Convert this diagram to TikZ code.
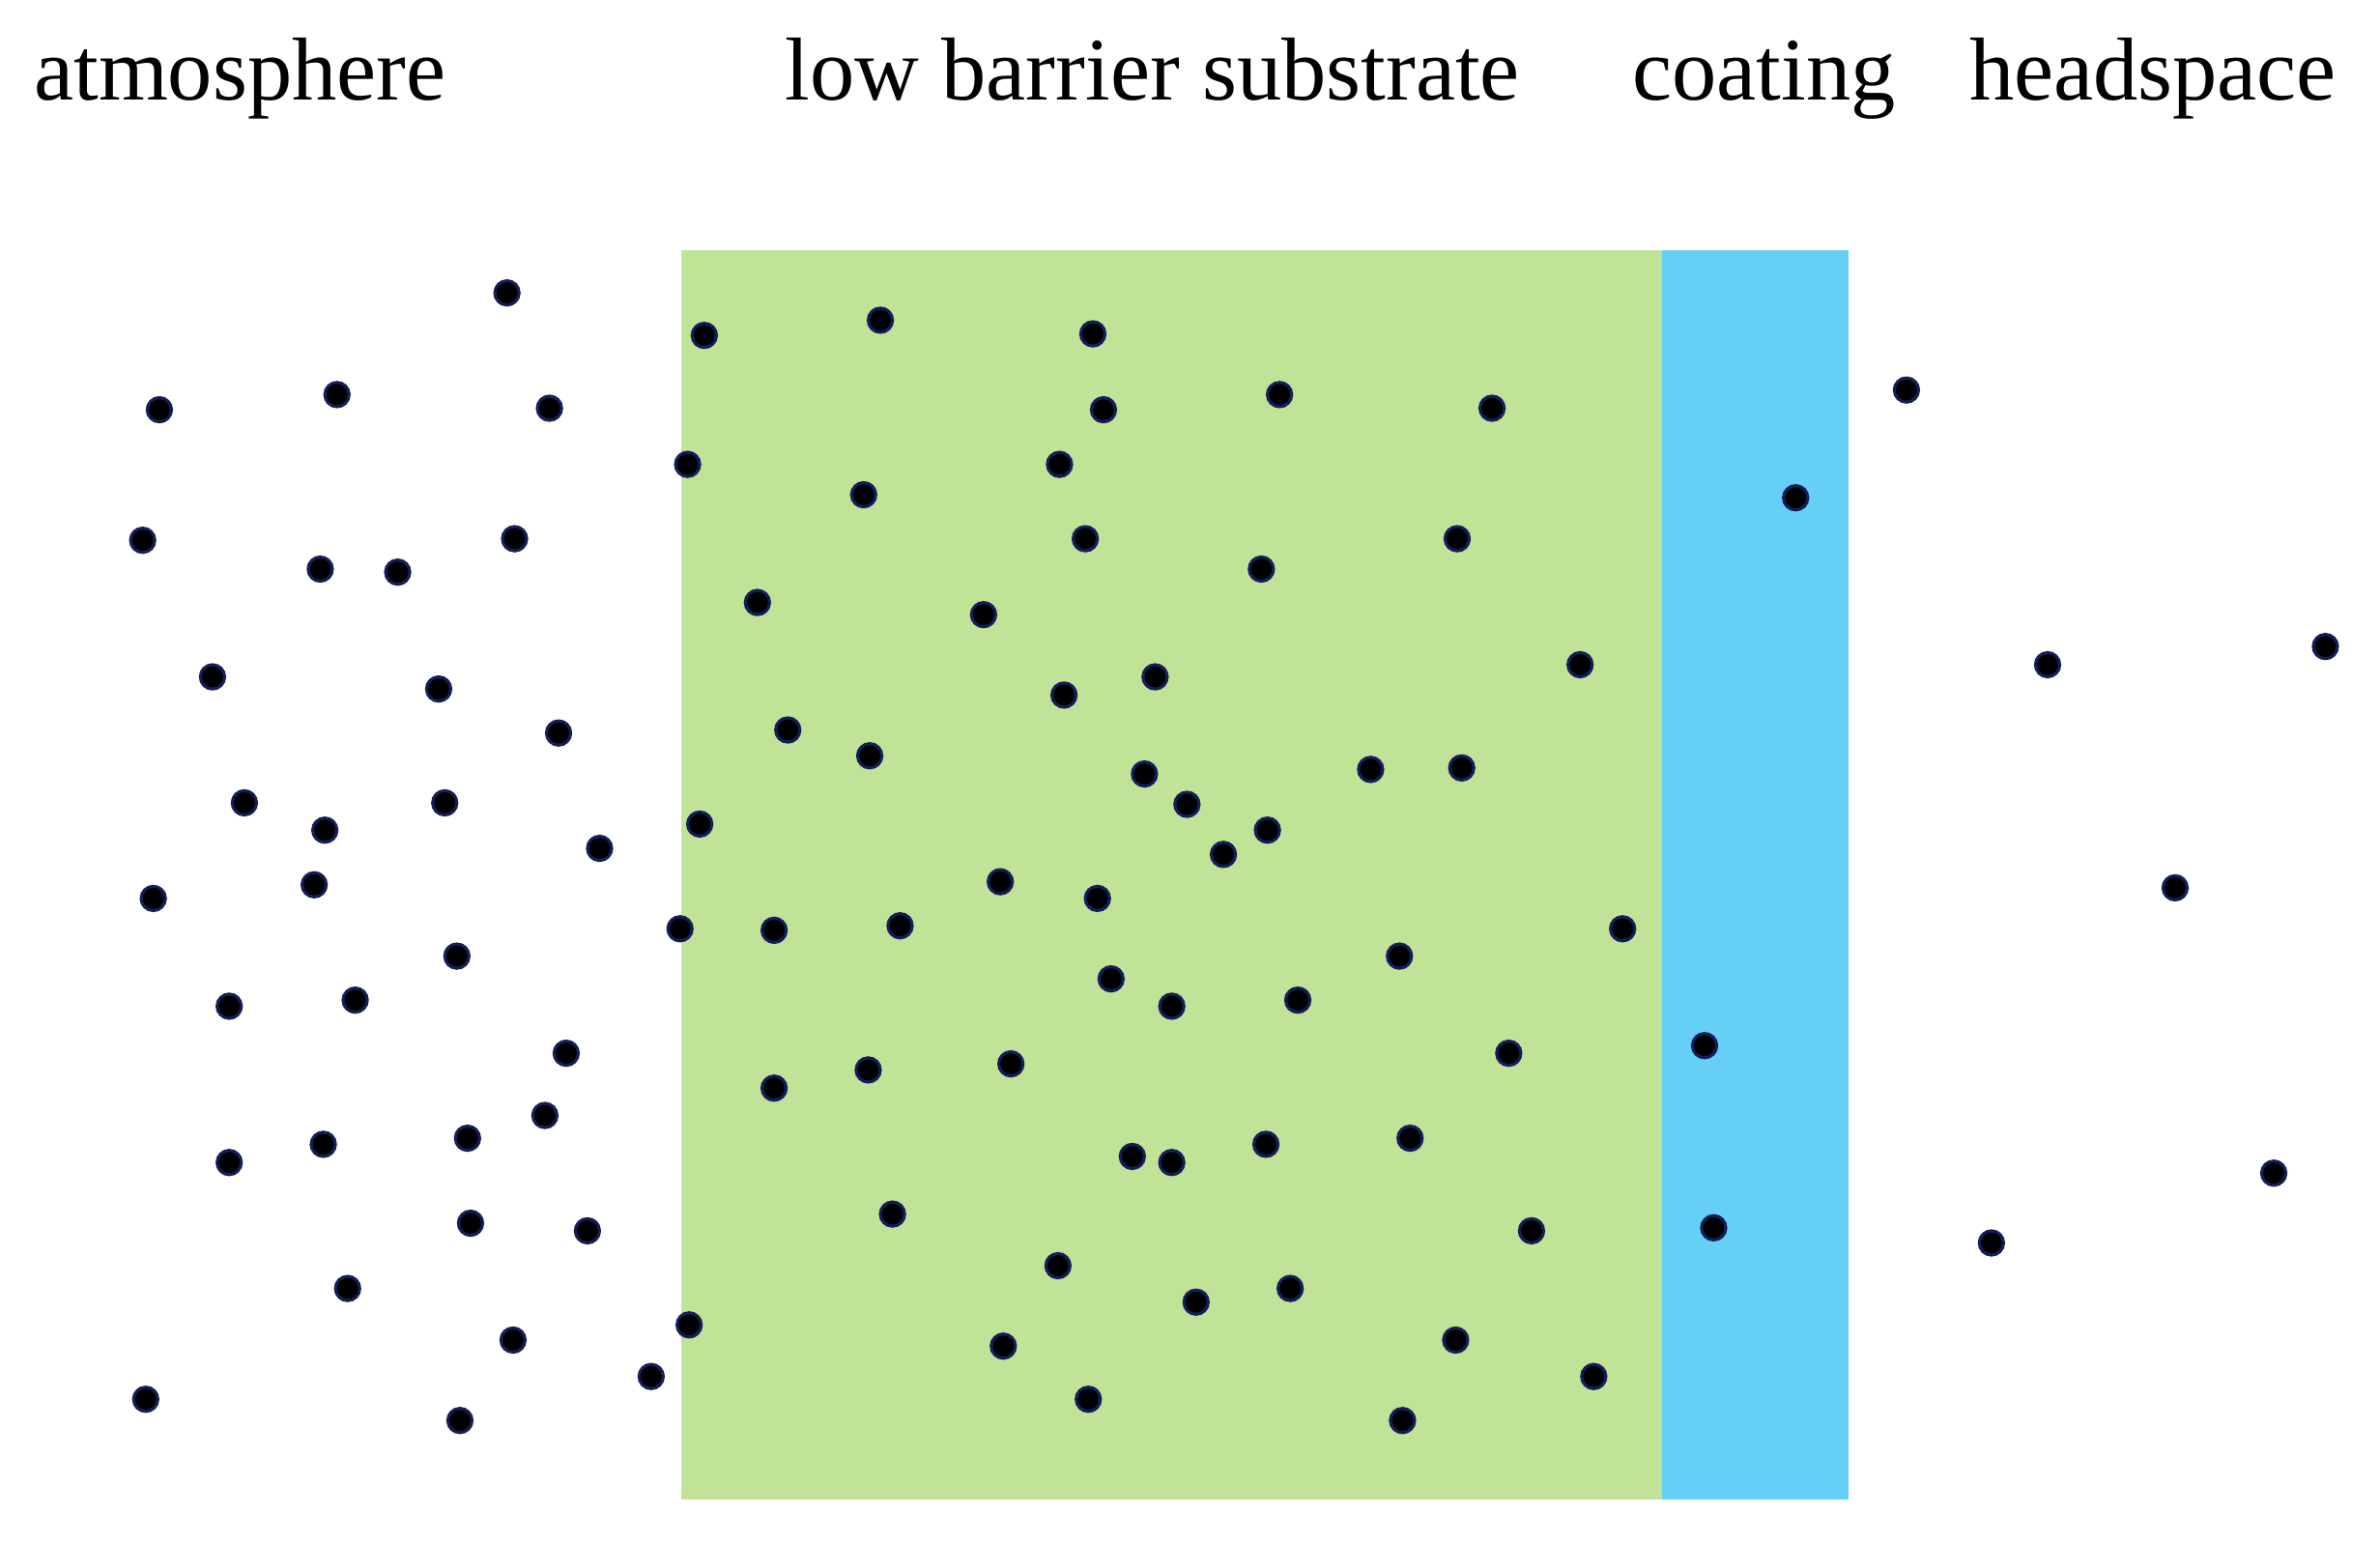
\documentclass[tikz,border=0pt]{standalone}
\usepackage{fontspec}
\setmainfont{Liberation Serif}
\usepackage{tikz}

\definecolor{substrategreen}{RGB}{192,227,152}
\definecolor{coatingblue}{RGB}{102,207,245}
\definecolor{dotedge}{RGB}{20,30,90}

\tikzset{
  molecule/.style={fill=black,draw=dotedge,line width=0.9pt},
  layerlabel/.style={anchor=base west,inner sep=0pt,font=\fontsize{26.3}{30}\selectfont}
}

\begin{document}
\begin{tikzpicture}[x=0.015708cm,y=-0.015708cm]
    \useasboundingbox (0,0) rectangle (1568,1016);
    % layers
    \fill[substrategreen] (449,165) rectangle (1095,988);
    \fill[coatingblue] (1095,165) rectangle (1218,988);
    % labels
    \node[layerlabel] (atm) at (22,66) {atmosphere};
    \node[layerlabel] (sub) at (517,66) {low barrier substrate};
    \node[layerlabel] (coat) at (1075,66) {coating};
    \node[layerlabel] (head) at (1297,66) {headspace};
    % molecules in the atmosphere
    \foreach \x/\y in {334/193,105/270,222/260,362/269,94/356,211/375,262/377,339/355,
        140/446,289/454,368/483,161/529,214/547,293/529,395/559,101/592,207/583,
        301/630,151/663,234/659,373/694,359/735,151/766,213/754,308/750,310/806,
        387/811,229/849,338/883,429/907,96/922,303/936}
        \draw[molecule] (\x,\y) circle (8);
    % molecules in the substrate
    \foreach \x/\y in {464/221,580/211,720/220,727/270,843/260,983/269,453/306,569/326,
        698/306,715/355,831/375,960/355,499/397,648/405,701/458,761/446,1041/438,
        519/481,573/498,754/510,782/530,903/507,963/506,461/543,835/547,806/563,
        659/581,723/592,448/612,510/613,593/610,1069/612,922/630,732/645,772/663,
        855/659,994/694,510/717,572/705,666/701,746/762,772/766,834/754,929/750,
        588/800,1009/811,697/834,788/858,850/849,454/873,661/887,959/883,1050/907,
        717/922,924/936}
        \draw[molecule] (\x,\y) circle (8);
    % molecules in the coating
    \foreach \x/\y in {1183/328,1123/689,1129/809}
        \draw[molecule] (\x,\y) circle (8);
    % molecules in the headspace
    \foreach \x/\y in {1256/257,1349/438,1532/426,1433/585,1498/773,1312/819}
        \draw[molecule] (\x,\y) circle (8);
\end{tikzpicture}
\end{document}
